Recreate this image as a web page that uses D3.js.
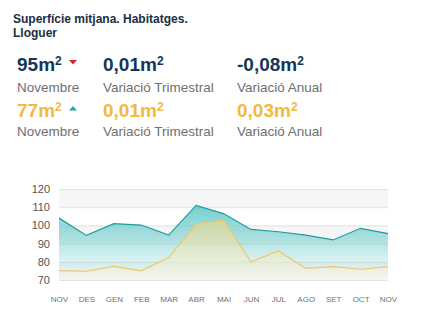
<!DOCTYPE html>
<html><head><meta charset="utf-8">
<script src="https://cdn.jsdelivr.net/npm/d3@7"></script>
<style>body{margin:0;background:#fff;font-family:"Liberation Sans",Arial,sans-serif}</style>
</head><body><svg id="c" width="437" height="323"></svg>
<script>
const months = ["NOV","DES","GEN","FEB","MAR","ABR","MAI","JUN","JUL","AGO","SET","OCT","NOV"];
const salesSeries = [104, 94.5, 101, 100.2, 94.7, 111, 106.5, 97.8, 96.5, 94.7, 92, 98.4, 95.5];
const rentSeries = [75.1, 74.8, 77.5, 75, 82.3, 100.8, 103, 80, 86, 76.4, 77.3, 75.9, 77.3];
const yTicks = [70, 80, 90, 100, 110, 120];
const titleLines = ["Superfície mitjana. Habitatges.", "Lloguer"];
const statsRow1 = [{v:"95m²", l:"Novembre"}, {v:"0,01m²", l:"Variació Trimestral"}, {v:"-0,08m²", l:"Variació Anual"}];
const statsRow2 = [{v:"77m²", l:"Novembre"}, {v:"0,01m²", l:"Variació Trimestral"}, {v:"0,03m²", l:"Variació Anual"}];

const svg = d3.select("#c");
const navy = "#14365a", orange = "#f1b93e", gray = "#6f6f6f";

svg.selectAll("text.title").data(titleLines).join("text")
  .attr("x", 13).attr("y", (d,i)=>22.5+i*14.5)
  .attr("font-size", 12).attr("font-weight", "bold").attr("fill", "#1b2e44").text(d=>d);

const colX = [17, 103, 237];
function statRow(data, color, yv, yl) {
  data.forEach((d,i)=>{
    const t = svg.append("text").attr("x", colX[i]).attr("y", yv)
      .attr("font-size", 19).attr("font-weight", "bold").attr("fill", color);
    const m = d.v.replace("²","");
    t.append("tspan").text(m);
    t.append("tspan").attr("font-size", 12).attr("dy", -6).text("2");
    svg.append("text").attr("x", colX[i]).attr("y", yl).attr("font-size", 13.5)
      .attr("fill", gray).text(d.l);
  });
}
statRow(statsRow1, navy, 71, 91.5);
statRow(statsRow2, orange, 116.5, 136);
// triangles
svg.append("path").attr("d", "M69,60 L77,60 L73,64.5 Z").attr("fill", "#d9262c");
svg.append("path").attr("d", "M69,110.5 L77,110.5 L73,106 Z").attr("fill", "#22aaa8");

const x = d3.scalePoint().domain(d3.range(months.length)).range([59, 388]);
const y = d3.scaleLinear().domain([70, 120]).range([280, 189]);

// alternating bands
const bands = [[110,120],[90,100],[70,80]];
svg.selectAll("rect.band").data(bands).join("rect")
  .attr("x", 59).attr("width", 329).attr("y", d=>y(d[1])).attr("height", d=>y(d[0])-y(d[1]))
  .attr("fill", "#f6f6f6");
svg.selectAll("line.grid").data(yTicks).join("line")
  .attr("x1", 59).attr("x2", 388).attr("y1", d=>y(d)+0.5).attr("y2", d=>y(d)+0.5)
  .attr("stroke", "#e3e3e3").attr("stroke-width", 1);

const yAxis = d3.axisLeft(y).tickValues(yTicks).tickSize(0).tickPadding(0);
const ga = svg.append("g").attr("transform", "translate(50,0)").call(yAxis);
ga.select(".domain").remove();
ga.selectAll("text").attr("font-size", 11).attr("fill", "#555").attr("font-family", "Liberation Sans, Arial, sans-serif");

const xAxis = d3.axisBottom(x).tickFormat(i=>months[i]).tickSize(0).tickPadding(0);
const gx = svg.append("g").attr("transform", "translate(0,296)").call(xAxis);
gx.select(".domain").remove();
gx.selectAll("text").attr("font-size", 8).attr("fill", "#707070").attr("font-family", "Liberation Sans, Arial, sans-serif");

const defs = svg.append("defs");
const g1 = defs.append("linearGradient").attr("id","gt").attr("x1",0).attr("y1",0).attr("x2",0).attr("y2",1);
g1.append("stop").attr("offset","0%").attr("stop-color","#5cc6c6").attr("stop-opacity",0.85);
g1.append("stop").attr("offset","100%").attr("stop-color","#5cc6c6").attr("stop-opacity",0.02);
const g2 = defs.append("linearGradient").attr("id","go").attr("x1",0).attr("y1",0).attr("x2",0).attr("y2",1);
g2.append("stop").attr("offset","0%").attr("stop-color","#e4d58e").attr("stop-opacity",0.75);
g2.append("stop").attr("offset","100%").attr("stop-color","#fdf6e0").attr("stop-opacity",0.4);

const area = d3.area().x((d,i)=>x(i)).y0(y(70)).y1(d=>y(d));
const line = d3.line().x((d,i)=>x(i)).y(d=>y(d));
svg.append("path").datum(salesSeries).attr("d", area).attr("fill", "url(#gt)");
svg.append("path").datum(rentSeries).attr("d", area).attr("fill", "url(#go)");
svg.append("path").datum(salesSeries).attr("d", line).attr("fill","none").attr("stroke","#1f9c9e").attr("stroke-width",1.2);
svg.append("path").datum(rentSeries).attr("d", line).attr("fill","none").attr("stroke","#f0c468").attr("stroke-width",1.2);
</script></body></html>
